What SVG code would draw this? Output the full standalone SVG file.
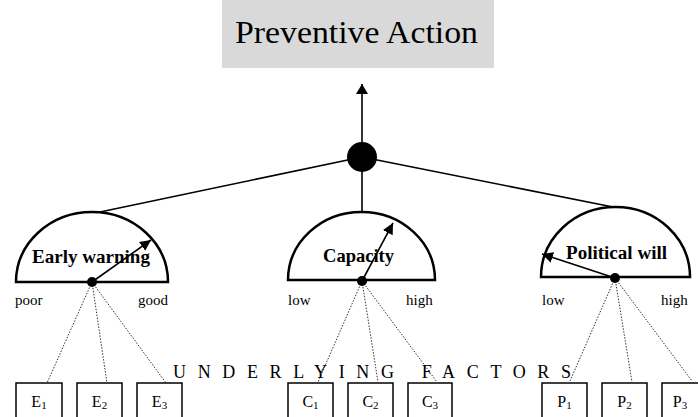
<svg xmlns="http://www.w3.org/2000/svg" width="698" height="417" viewBox="0 0 698 417">
<style>
  .serif { font-family: "Liberation Serif", "Times New Roman", serif; fill: #000; }
  .lbl { font-size: 15px; }
  .box-lbl { font-size: 16px; }
  .bold { font-size: 18px; font-weight: bold; }
  .gauge { fill: #fff; stroke: #000; stroke-width: 2.5; }
  .box { fill: #fff; stroke: #000; stroke-width: 1.5; }
  .solid { stroke: #000; stroke-width: 1.6; fill: none; }
  .dot-line { stroke: #333; stroke-width: 1; stroke-dasharray: 1.5 1.5; fill: none; }
  .sub { font-size: 11px; }
</style>
<defs>
  <marker id="ah" viewBox="0 0 10 10" refX="10" refY="5" markerWidth="11" markerHeight="11" markerUnits="userSpaceOnUse" orient="auto">
    <path d="M0,0 L10,5 L0,10 Z" fill="#000"/>
  </marker>
  <marker id="ahBig" viewBox="0 0 10 12" refX="10" refY="6" markerWidth="10" markerHeight="12" markerUnits="userSpaceOnUse" orient="auto">
    <path d="M0,0 L10,6 L0,12 Z" fill="#000"/>
  </marker>
</defs>
<rect width="698" height="417" fill="#fff"/>

<g id="title">
  <rect x="222" y="0" width="272" height="68" fill="#d9d9d9"/>
  <text class="serif" x="235" y="43" font-size="32" textLength="243" lengthAdjust="spacingAndGlyphs">Preventive Action</text>
</g>

<g id="connectors">
  <line class="solid" x1="362" y1="142" x2="362" y2="84" marker-end="url(#ahBig)"/>
  <line class="solid" x1="362" y1="157" x2="100" y2="212"/>
  <line class="solid" x1="362" y1="157" x2="362" y2="212"/>
  <line class="solid" x1="362" y1="157" x2="613" y2="207"/>
  <line class="dot-line" x1="92" y1="282" x2="47" y2="383"/>
  <line class="dot-line" x1="92" y1="282" x2="107" y2="383"/>
  <line class="dot-line" x1="92" y1="282" x2="166" y2="383"/>
  <line class="dot-line" x1="362" y1="281" x2="318" y2="382"/>
  <line class="dot-line" x1="362" y1="281" x2="378" y2="382"/>
  <line class="dot-line" x1="362" y1="281" x2="437" y2="382"/>
  <line class="dot-line" x1="615" y1="278" x2="570" y2="381"/>
  <line class="dot-line" x1="615" y1="278" x2="632" y2="382"/>
  <line class="dot-line" x1="615" y1="278" x2="692" y2="381"/>
</g>

<g id="hub">
  <circle cx="362" cy="157" r="15" fill="#000"/>
</g>

<g id="early-warning">
  <path class="gauge" d="M16,282 A76,70 0 0 1 168,282 Z"/>
  <text class="serif bold" x="32" y="263" textLength="118" lengthAdjust="spacingAndGlyphs">Early warning</text>
  <line class="solid" x1="92" y1="282" x2="151" y2="240" marker-end="url(#ah)"/>
  <circle cx="92" cy="282" r="5" fill="#000"/>
  <text class="serif lbl" x="15" y="305">poor</text>
  <text class="serif lbl" x="138" y="305">good</text>
</g>

<g id="capacity">
  <path class="gauge" d="M288,280 A73.5,68 0 0 1 435,280 Z"/>
  <text class="serif bold" x="323" y="262" textLength="71" lengthAdjust="spacingAndGlyphs">Capacity</text>
  <line class="solid" x1="362" y1="281" x2="393" y2="223" marker-end="url(#ah)"/>
  <circle cx="362" cy="281" r="5" fill="#000"/>
  <text class="serif lbl" x="288" y="305">low</text>
  <text class="serif lbl" x="406" y="305">high</text>
</g>

<g id="political-will">
  <path class="gauge" d="M541,277 A74.5,70 0 0 1 690,277 Z"/>
  <text class="serif bold" x="566" y="259" textLength="101" lengthAdjust="spacingAndGlyphs">Political will</text>
  <line class="solid" x1="615" y1="278" x2="542" y2="254" marker-end="url(#ah)"/>
  <circle cx="615" cy="278" r="5" fill="#000"/>
  <text class="serif lbl" x="542" y="305">low</text>
  <text class="serif lbl" x="661" y="305">high</text>
</g>

<g id="underlying-factors">
  <text class="serif" x="173" y="378" font-size="18" textLength="398" lengthAdjust="spacing">UNDERLYING FACTORS</text>
</g>

<g id="E1"><rect class="box" x="16" y="383" width="46" height="40"/><text class="serif box-lbl" x="39" y="407" text-anchor="middle">E<tspan class="sub" dy="2">1</tspan></text></g>
<g id="E2"><rect class="box" x="77" y="383" width="45" height="40"/><text class="serif box-lbl" x="99.5" y="407" text-anchor="middle">E<tspan class="sub" dy="2">2</tspan></text></g>
<g id="E3"><rect class="box" x="137" y="383" width="45" height="40"/><text class="serif box-lbl" x="159.5" y="407" text-anchor="middle">E<tspan class="sub" dy="2">3</tspan></text></g>
<g id="C1"><rect class="box" x="288" y="383" width="45" height="40"/><text class="serif box-lbl" x="310.5" y="407" text-anchor="middle">C<tspan class="sub" dy="2">1</tspan></text></g>
<g id="C2"><rect class="box" x="348" y="383" width="45" height="40"/><text class="serif box-lbl" x="370.5" y="407" text-anchor="middle">C<tspan class="sub" dy="2">2</tspan></text></g>
<g id="C3"><rect class="box" x="408" y="383" width="44" height="40"/><text class="serif box-lbl" x="430" y="407" text-anchor="middle">C<tspan class="sub" dy="2">3</tspan></text></g>
<g id="P1"><rect class="box" x="542" y="383" width="45" height="40"/><text class="serif box-lbl" x="564.5" y="407" text-anchor="middle">P<tspan class="sub" dy="2">1</tspan></text></g>
<g id="P2"><rect class="box" x="602" y="383" width="45" height="40"/><text class="serif box-lbl" x="624.5" y="407" text-anchor="middle">P<tspan class="sub" dy="2">2</tspan></text></g>
<g id="P3"><rect class="box" x="662" y="383" width="45" height="40"/><text class="serif box-lbl" x="680" y="407" text-anchor="middle">P<tspan class="sub" dy="2">3</tspan></text></g>
</svg>
